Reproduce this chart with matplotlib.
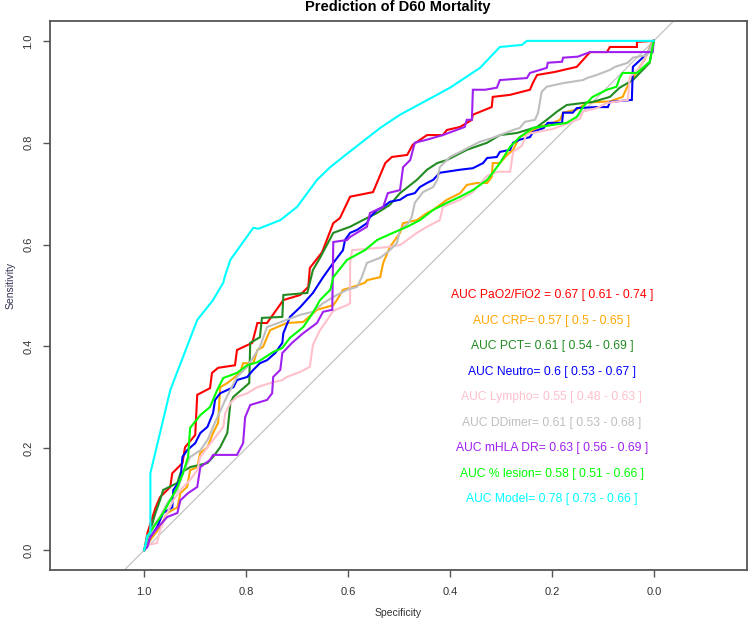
import matplotlib
matplotlib.use("Agg")
import matplotlib.pyplot as plt

plt.rcParams['font.family'] = ['Liberation Sans', 'DejaVu Sans']

# ---------------- data (specificity, sensitivity) ----------------
pao2_spec = [1.0, 0.994, 0.978, 0.969, 0.949, 0.945, 0.925, 0.920, 0.900, 0.896, 0.871, 0.867, 0.855, 0.822,
             0.818, 0.788, 0.778, 0.759, 0.727, 0.694, 0.678, 0.675, 0.651, 0.629, 0.616, 0.596, 0.551, 0.527,
             0.514, 0.484, 0.473, 0.445, 0.414, 0.406, 0.380, 0.357, 0.355, 0.318, 0.316, 0.282, 0.243, 0.237,
             0.229, 0.194, 0.151, 0.125, 0.092, 0.086, 0.033, 0.033, 0.0]
pao2_sens = [0.0, 0.033, 0.083, 0.104, 0.124, 0.151, 0.171, 0.202, 0.226, 0.305, 0.318, 0.348, 0.358, 0.363,
             0.393, 0.407, 0.446, 0.446, 0.491, 0.501, 0.517, 0.554, 0.585, 0.642, 0.652, 0.694, 0.703, 0.760,
             0.772, 0.776, 0.796, 0.815, 0.815, 0.825, 0.831, 0.845, 0.855, 0.870, 0.890, 0.894, 0.904, 0.918,
             0.933, 0.939, 0.949, 0.978, 0.978, 0.988, 0.988, 0.998, 1.0]

crp_spec = [1.0, 0.988, 0.969, 0.955, 0.935, 0.929, 0.916, 0.910, 0.896, 0.890, 0.876, 0.865, 0.855, 0.851,
            0.837, 0.812, 0.806, 0.786, 0.778, 0.767, 0.753, 0.720, 0.688, 0.661, 0.629, 0.622, 0.610, 0.590,
            0.567, 0.563, 0.537, 0.531, 0.518, 0.498, 0.492, 0.465, 0.445, 0.433, 0.406, 0.380, 0.367, 0.347,
            0.327, 0.318, 0.316, 0.302, 0.288, 0.276, 0.269, 0.263, 0.243, 0.224, 0.198, 0.184, 0.178, 0.151,
            0.131, 0.086, 0.061, 0.051, 0.018, 0.004, 0.0]
crp_sens = [0.0, 0.020, 0.045, 0.073, 0.084, 0.112, 0.124, 0.157, 0.163, 0.191, 0.202, 0.230, 0.250, 0.320,
            0.328, 0.348, 0.367, 0.367, 0.393, 0.399, 0.432, 0.446, 0.448, 0.472, 0.481, 0.491, 0.511, 0.517,
            0.525, 0.530, 0.536, 0.564, 0.595, 0.623, 0.642, 0.648, 0.662, 0.668, 0.688, 0.701, 0.717, 0.721,
            0.721, 0.733, 0.760, 0.760, 0.776, 0.786, 0.800, 0.811, 0.821, 0.831, 0.839, 0.845, 0.859, 0.865,
            0.879, 0.881, 0.890, 0.912, 0.963, 0.996, 1.0]

pct_spec = [1.0, 0.988, 0.978, 0.969, 0.963, 0.935, 0.929, 0.910, 0.876, 0.865, 0.851, 0.837, 0.831, 0.825,
            0.794, 0.792, 0.773, 0.769, 0.729, 0.727, 0.680, 0.669, 0.655, 0.629, 0.596, 0.571, 0.543, 0.518,
            0.498, 0.465, 0.445, 0.425, 0.406, 0.367, 0.327, 0.302, 0.269, 0.229, 0.210, 0.190, 0.171, 0.139,
            0.120, 0.086, 0.067, 0.041, 0.008, 0.0]
pct_sens = [0.0, 0.039, 0.073, 0.098, 0.118, 0.132, 0.151, 0.163, 0.171, 0.183, 0.202, 0.230, 0.289, 0.301,
            0.328, 0.407, 0.418, 0.456, 0.458, 0.501, 0.505, 0.550, 0.574, 0.623, 0.635, 0.648, 0.662, 0.678,
            0.701, 0.727, 0.747, 0.760, 0.766, 0.786, 0.800, 0.815, 0.819, 0.831, 0.845, 0.861, 0.874, 0.878,
            0.880, 0.890, 0.908, 0.923, 0.957, 1.0]

neutro_spec = [1.0, 0.988, 0.975, 0.963, 0.945, 0.943, 0.929, 0.925, 0.916, 0.900, 0.890, 0.876, 0.865, 0.861,
               0.851, 0.825, 0.818, 0.798, 0.786, 0.773, 0.759, 0.743, 0.729, 0.727, 0.714, 0.694, 0.669, 0.649,
               0.629, 0.610, 0.606, 0.596, 0.582, 0.563, 0.557, 0.543, 0.531, 0.518, 0.498, 0.484, 0.469, 0.459,
               0.445, 0.433, 0.420, 0.380, 0.355, 0.335, 0.327, 0.308, 0.302, 0.282, 0.276, 0.263, 0.243, 0.237,
               0.216, 0.208, 0.180, 0.178, 0.159, 0.151, 0.112, 0.090, 0.086, 0.043, 0.041, 0.012, 0.0]
neutro_sens = [0.0, 0.026, 0.045, 0.073, 0.084, 0.118, 0.138, 0.183, 0.196, 0.210, 0.230, 0.242, 0.269, 0.295,
               0.308, 0.320, 0.334, 0.340, 0.354, 0.367, 0.373, 0.387, 0.407, 0.426, 0.458, 0.477, 0.505, 0.536,
               0.564, 0.589, 0.609, 0.623, 0.629, 0.642, 0.654, 0.668, 0.674, 0.684, 0.688, 0.697, 0.701, 0.713,
               0.721, 0.727, 0.741, 0.747, 0.750, 0.760, 0.770, 0.772, 0.782, 0.786, 0.800, 0.806, 0.811, 0.821,
               0.829, 0.839, 0.839, 0.859, 0.859, 0.868, 0.870, 0.870, 0.880, 0.884, 0.949, 0.976, 1.0]

lympho_spec = [1.0, 0.994, 0.975, 0.969, 0.955, 0.943, 0.929, 0.910, 0.896, 0.890, 0.876, 0.865, 0.845, 0.841,
               0.831, 0.818, 0.798, 0.778, 0.753, 0.729, 0.720, 0.694, 0.675, 0.669, 0.655, 0.641, 0.629, 0.602,
               0.596, 0.596, 0.592, 0.524, 0.498, 0.484, 0.465, 0.445, 0.420, 0.414, 0.380, 0.355, 0.327, 0.306,
               0.282, 0.276, 0.259, 0.249, 0.198, 0.171, 0.145, 0.139, 0.112, 0.092, 0.051, 0.047, 0.027, 0.0]
lympho_sens = [0.0, 0.010, 0.014, 0.039, 0.073, 0.098, 0.118, 0.138, 0.157, 0.183, 0.202, 0.216, 0.242, 0.269,
               0.289, 0.301, 0.308, 0.320, 0.328, 0.334, 0.340, 0.350, 0.360, 0.403, 0.432, 0.452, 0.470, 0.481,
               0.485, 0.564, 0.589, 0.595, 0.599, 0.609, 0.623, 0.635, 0.648, 0.674, 0.688, 0.703, 0.735, 0.743,
               0.743, 0.782, 0.794, 0.817, 0.827, 0.837, 0.847, 0.861, 0.868, 0.878, 0.884, 0.929, 0.947, 1.0]

ddimer_spec = [1.0, 0.988, 0.969, 0.955, 0.935, 0.924, 0.910, 0.890, 0.876, 0.865, 0.841, 0.818, 0.798, 0.773,
               0.759, 0.694, 0.669, 0.649, 0.622, 0.602, 0.582, 0.573, 0.563, 0.537, 0.518, 0.504, 0.498, 0.482,
               0.475, 0.469, 0.453, 0.433, 0.425, 0.420, 0.400, 0.380, 0.361, 0.341, 0.318, 0.302, 0.276, 0.263,
               0.253, 0.233, 0.227, 0.220, 0.210, 0.178, 0.139, 0.131, 0.112, 0.086, 0.076, 0.051, 0.041, 0.014, 0.0]
ddimer_sens = [0.0, 0.039, 0.065, 0.092, 0.118, 0.151, 0.183, 0.196, 0.216, 0.242, 0.295, 0.340, 0.360, 0.399,
               0.438, 0.462, 0.468, 0.485, 0.501, 0.511, 0.517, 0.536, 0.564, 0.574, 0.589, 0.603, 0.629, 0.642,
               0.654, 0.682, 0.703, 0.713, 0.727, 0.752, 0.772, 0.782, 0.792, 0.802, 0.809, 0.815, 0.825, 0.829,
               0.841, 0.845, 0.859, 0.900, 0.910, 0.917, 0.923, 0.927, 0.933, 0.943, 0.949, 0.957, 0.967, 0.972, 1.0]

hladr_spec = [1.0, 0.994, 0.988, 0.973, 0.955, 0.935, 0.929, 0.914, 0.896, 0.890, 0.871, 0.865, 0.818, 0.806,
              0.802, 0.792, 0.759, 0.749, 0.747, 0.733, 0.729, 0.710, 0.688, 0.661, 0.649, 0.631, 0.629, 0.602,
              0.596, 0.563, 0.557, 0.531, 0.522, 0.498, 0.492, 0.478, 0.469, 0.445, 0.414, 0.371, 0.367, 0.357,
              0.355, 0.331, 0.308, 0.302, 0.249, 0.243, 0.210, 0.208, 0.180, 0.178, 0.149, 0.125, 0.002, 0.0]
hladr_sens = [0.0, 0.006, 0.026, 0.045, 0.065, 0.073, 0.098, 0.112, 0.124, 0.163, 0.177, 0.187, 0.187, 0.210,
              0.261, 0.285, 0.295, 0.308, 0.340, 0.354, 0.387, 0.407, 0.426, 0.446, 0.468, 0.472, 0.605, 0.609,
              0.615, 0.635, 0.662, 0.674, 0.701, 0.707, 0.752, 0.766, 0.800, 0.806, 0.815, 0.831, 0.845, 0.845,
              0.904, 0.904, 0.908, 0.923, 0.927, 0.937, 0.947, 0.957, 0.959, 0.967, 0.969, 0.978, 0.978, 1.0]

lesion_spec = [1.0, 0.994, 0.982, 0.963, 0.949, 0.935, 0.924, 0.914, 0.910, 0.890, 0.871, 0.857, 0.845, 0.818,
               0.798, 0.778, 0.747, 0.729, 0.714, 0.688, 0.669, 0.655, 0.635, 0.629, 0.602, 0.567, 0.543, 0.512,
               0.484, 0.459, 0.433, 0.406, 0.380, 0.355, 0.327, 0.316, 0.302, 0.282, 0.263, 0.237, 0.198, 0.171,
               0.151, 0.139, 0.120, 0.092, 0.073, 0.067, 0.061, 0.033, 0.008, 0.0]
lesion_sens = [0.0, 0.026, 0.045, 0.073, 0.098, 0.124, 0.151, 0.183, 0.240, 0.265, 0.281, 0.314, 0.338, 0.348,
               0.363, 0.369, 0.389, 0.397, 0.417, 0.438, 0.466, 0.491, 0.511, 0.536, 0.570, 0.589, 0.609, 0.623,
               0.635, 0.648, 0.668, 0.682, 0.694, 0.707, 0.727, 0.741, 0.760, 0.792, 0.811, 0.829, 0.835, 0.839,
               0.851, 0.870, 0.890, 0.904, 0.910, 0.927, 0.937, 0.937, 0.959, 1.0]

model_spec = [1.0, 0.994, 0.988, 0.988, 0.988, 0.949, 0.896, 0.865, 0.845, 0.841, 0.831, 0.786, 0.776, 0.733,
              0.700, 0.661, 0.635, 0.610, 0.537, 0.498, 0.433, 0.400, 0.341, 0.302, 0.259, 0.249, 0.0]
model_sens = [0.0, 0.029, 0.033, 0.138, 0.151, 0.314, 0.452, 0.491, 0.525, 0.540, 0.570, 0.633, 0.631, 0.648,
              0.674, 0.727, 0.752, 0.772, 0.829, 0.855, 0.890, 0.908, 0.947, 0.988, 0.992, 1.0, 1.0]

series_specs = [pao2_spec, crp_spec, pct_spec, neutro_spec, lympho_spec, ddimer_spec, hladr_spec, lesion_spec, model_spec]
series_sens = [pao2_sens, crp_sens, pct_sens, neutro_sens, lympho_sens, ddimer_sens, hladr_sens, lesion_sens, model_sens]
series_colors = ['#ff0000', '#ffa500', '#228b22', '#0000ff', '#ffc0cb', '#bebebe', '#a020f0', '#00ff00', '#00ffff']
auc_labels = [
    "AUC PaO2/FiO2 = 0.67 [ 0.61 - 0.74 ]",
    "AUC CRP= 0.57 [ 0.5 - 0.65 ]",
    "AUC PCT= 0.61 [ 0.54 - 0.69 ]",
    "AUC Neutro= 0.6 [ 0.53 - 0.67 ]",
    "AUC Lympho= 0.55 [ 0.48 - 0.63 ]",
    "AUC DDimer= 0.61 [ 0.53 - 0.68 ]",
    "AUC mHLA DR= 0.63 [ 0.56 - 0.69 ]",
    "AUC % lesion= 0.58 [ 0.51 - 0.66 ]",
    "AUC Model= 0.78 [ 0.73 - 0.66 ]",
]
tick_values = [1.0, 0.8, 0.6, 0.4, 0.2, 0.0]
tick_labels = ["1.0", "0.8", "0.6", "0.4", "0.2", "0.0"]

# ---------------- figure ----------------
W, H = 750, 623
fig = plt.figure(figsize=(W / 100, H / 100), dpi=100)
ax = fig.add_axes([50 / W, 1 - 570 / H, 697 / W, 549 / H])
ax.set_xlim(1.185, -0.183)
ax.set_ylim(-0.039, 1.039)

# diagonal reference line
ax.axline((1.0, 0.0), (0.0, 1.0), color='#c8c8c8', lw=1.0, zorder=1)

for sp, se, c in zip(series_specs, series_sens, series_colors):
    ax.plot(sp, se, color=c, lw=1.5, solid_joinstyle='miter', zorder=2)

for i, (lab, c) in enumerate(zip(auc_labels, series_colors)):
    ax.text(0.2, 0.5 - 0.05 * i, lab, color=c, fontsize=8.7, ha='center', va='center', zorder=3)

for s in ax.spines.values():
    s.set_color('#555555')
    s.set_linewidth(1.3)

ax.set_xticks(tick_values)
ax.set_xticklabels(tick_labels)
ax.set_yticks(tick_values)
ax.set_yticklabels(tick_labels, rotation=90, va='center')
ax.tick_params(axis='both', direction='out', length=5, width=1.0, color='#555555',
               labelsize=8, labelcolor='#333333', pad=7)

fig.text(398 / W, 1 - 613 / H, "Specificity", fontsize=7.5, color='#333333', ha='center', va='center')
fig.text(11 / W, 1 - 285 / H, "Sensitivity", fontsize=7.5, color='#333355', ha='center', va='center', rotation=90)
fig.text(398 / W, 1 - 7 / H, "Prediction of D60 Mortality", fontsize=10.5, fontweight='bold',
         ha='center', va='center')

fig.savefig("out.png", dpi=100)
